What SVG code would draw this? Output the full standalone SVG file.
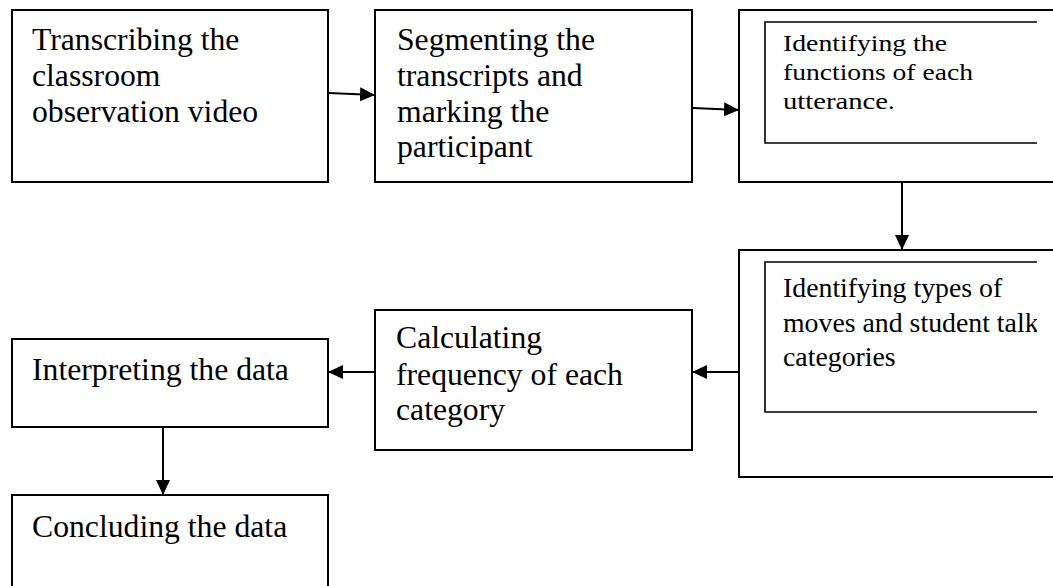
<svg xmlns="http://www.w3.org/2000/svg" width="1053" height="586" viewBox="0 0 1053 586">
  <style>
    .box { fill: #ffffff; stroke: #000000; stroke-width: 2; }
    .inner { fill: none; stroke: #000000; stroke-width: 1.6; }
    .lbl { font-family: "Liberation Serif", "Times New Roman", serif; font-size: 31.7px; fill: #000000; }
    .mid { font-family: "Liberation Serif", "Times New Roman", serif; font-size: 27.8px; fill: #000000; }
    .sm { font-family: "Liberation Serif", "Times New Roman", serif; font-size: 22.5px; fill: #000000; }
    .edge { fill: none; stroke: #000000; stroke-width: 2; }
  </style>
  <defs>
    <marker id="arrow" viewBox="0 0 15 14" refX="15" refY="7" markerWidth="15" markerHeight="14" markerUnits="userSpaceOnUse" orient="auto">
      <path d="M0,0 L15,7 L0,14 Z" fill="#000000"/>
    </marker>
    <clipPath id="clipInner">
      <rect x="760" y="0" width="277" height="586"/>
    </clipPath>
  </defs>
  <rect width="1053" height="586" fill="#ffffff"/>

  <g id="transcribing">
    <rect class="box" x="12" y="10" width="316" height="172"/>
    <text class="lbl" x="32" y="50">Transcribing the</text>
    <text class="lbl" x="32" y="86">classroom</text>
    <text class="lbl" x="32" y="122">observation video</text>
  </g>

  <g id="segmenting">
    <rect class="box" x="375" y="10" width="317" height="172"/>
    <text class="lbl" x="397" y="50">Segmenting the</text>
    <text class="lbl" x="397" y="86">transcripts and</text>
    <text class="lbl" x="397" y="122">marking the</text>
    <text class="lbl" x="397" y="157">participant</text>
  </g>

  <g id="identifying-functions">
    <path class="box" d="M1060,10 H739 V182 H1060"/>
    <path class="inner" d="M1037,22 H765 V143 H1037"/>
    <text class="sm" x="783" y="51" textLength="164" lengthAdjust="spacingAndGlyphs">Identifying the</text>
    <text class="sm" x="783" y="80" textLength="190" lengthAdjust="spacingAndGlyphs">functions of each</text>
    <text class="sm" x="783" y="109" textLength="112" lengthAdjust="spacingAndGlyphs">utterance.</text>
  </g>

  <g id="identifying-moves">
    <path class="box" d="M1060,250 H739 V477 H1060"/>
    <path class="inner" d="M1037,262 H765 V412 H1037"/>
    <g clip-path="url(#clipInner)">
      <text class="mid" x="783" y="297">Identifying types of</text>
      <text class="mid" x="783" y="332">moves and student talk</text>
      <text class="mid" x="783" y="366">categories</text>
    </g>
  </g>

  <g id="calculating">
    <rect class="box" x="375" y="310" width="317" height="140"/>
    <text class="lbl" x="396" y="348">Calculating</text>
    <text class="lbl" x="396" y="385">frequency of each</text>
    <text class="lbl" x="396" y="420">category</text>
  </g>

  <g id="interpreting">
    <rect class="box" x="12" y="339" width="316" height="88"/>
    <text class="lbl" x="32" y="380">Interpreting the data</text>
  </g>

  <g id="concluding">
    <path class="box" d="M12,600 V495 H328 V600"/>
    <text class="lbl" x="32" y="537">Concluding the data</text>
  </g>

  <g id="connectors">
    <line class="edge" x1="329" y1="93" x2="375" y2="95" marker-end="url(#arrow)"/>
    <line class="edge" x1="693" y1="108" x2="739" y2="110" marker-end="url(#arrow)"/>
    <line class="edge" x1="902" y1="183" x2="902" y2="250" marker-end="url(#arrow)"/>
    <line class="edge" x1="738" y1="372" x2="692" y2="372" marker-end="url(#arrow)"/>
    <line class="edge" x1="374" y1="372" x2="328" y2="372" marker-end="url(#arrow)"/>
    <line class="edge" x1="163" y1="428" x2="163" y2="495" marker-end="url(#arrow)"/>
  </g>
</svg>
